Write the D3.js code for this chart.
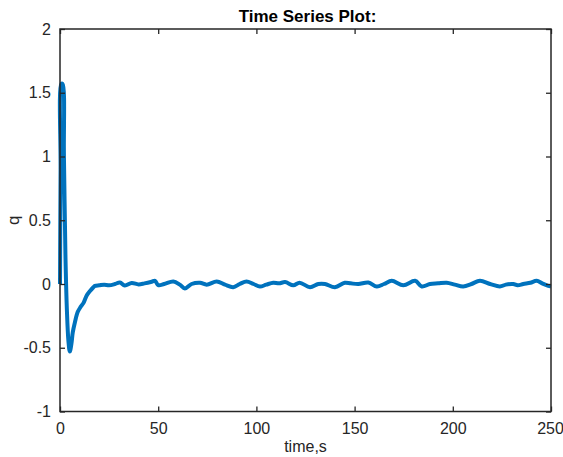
<!DOCTYPE html>
<html>
<head>
<meta charset="utf-8">
<script src="https://cdn.jsdelivr.net/npm/d3@7"></script>
<style>
  html, body { margin: 0; padding: 0; background: #fff; }
  svg { display: block; font-family: "Liberation Sans", Arial, sans-serif; }
</style>
</head>
<body>
<svg width="563" height="457"></svg>
<script>
// time (s) and q values
const times = [0, 0.3, 0.7, 1.3, 2.0, 2.8, 3.5, 4.3, 5.0, 5.8, 6.5, 7.6, 9.0, 10.5, 11.9, 13.6, 15.3, 17.0, 17.8,
  20, 22.5, 25, 28, 30.5, 33, 36.5, 40, 43, 46.7, 48.4, 50, 53, 57.7, 61, 63.6, 67, 71.3, 74.7, 79.8, 84,
  88.2, 91.5, 95, 98.5, 101.8, 105, 108.6, 111.5, 114.6, 118.8, 122, 127.3, 131.5, 134.9, 140, 145, 148,
  151.9, 157, 161.3, 165, 168.9, 174.8, 180.8, 184.2, 188.4, 192.5, 196.9, 201, 205.3, 209.5, 213.8, 219,
  224, 227, 230.8, 233, 235.9, 239.5, 242.7, 245.5, 248.6, 250];
const qValues = [0, 0.9, 1.57, 1.57, 1.0, 0.2, -0.2, -0.45, -0.53, -0.47, -0.38, -0.3, -0.22, -0.18, -0.15, -0.09, -0.055, -0.025, -0.015,
  -0.01, -0.005, -0.01, 0.0, 0.012, -0.012, 0.008, -0.003, 0.005, 0.018, 0.025, -0.008, 0.0, 0.02, -0.005, -0.035, 0.0, 0.01, -0.005, 0.02, -0.005,
  -0.025, 0.0, 0.02, 0.0, -0.02, -0.005, 0.01, 0.005, 0.015, -0.01, 0.01, -0.025, 0.0, 0.0, -0.025, 0.01, 0.005,
  0.0, 0.012, -0.02, 0.0, 0.025, -0.01, 0.025, -0.02, 0.0, 0.005, 0.01, -0.005, -0.02, 0.0, 0.025, 0.0,
  -0.02, -0.005, 0.0, -0.01, 0.0, 0.01, 0.025, 0.005, -0.015, -0.02];

const xTicks = [0, 50, 100, 150, 200, 250];
const yTicks = [-1, -0.5, 0, 0.5, 1, 1.5, 2];

const svg = d3.select("svg");
const plotLeft = 60, plotRight = 551, plotTop = 29, plotBottom = 411.5;
const axisColor = "#262626";

const x = d3.scaleLinear().domain([0, 250]).range([plotLeft, plotRight]);
const y = d3.scaleLinear().domain([-1, 2]).range([plotBottom, plotTop]);

const data = times.map((t, i) => ({ t: t, q: qValues[i] }));

// data line
svg.append("path")
  .datum(data)
  .attr("fill", "none")
  .attr("stroke", "#0072BD")
  .attr("stroke-width", 4)
  .attr("stroke-linejoin", "round")
  .attr("d", d3.line().x(d => x(d.t)).y(d => y(d.q)).curve(d3.curveCatmullRom.alpha(0.5)));

// box axes with inward ticks on all sides
function styleAxis(g) {
  g.select(".domain").remove();
  g.selectAll(".tick line").attr("stroke", axisColor).attr("stroke-width", 1.3);
  g.selectAll(".tick text").attr("fill", axisColor).style("font-size", "16px");
}

svg.append("g").attr("transform", `translate(0,${plotBottom})`)
  .call(d3.axisBottom(x).tickValues(xTicks).tickSizeInner(-5).tickPadding(9).tickFormat(d => String(d)))
  .call(styleAxis)
  .call(g => g.selectAll(".tick text").attr("dy", "0.85em"))
  .call(g => g.selectAll(".tick text").filter(d => d === 250).attr("dx", "-1px"));
svg.append("g").attr("transform", `translate(0,${plotTop})`)
  .call(d3.axisTop(x).tickValues(xTicks).tickSizeInner(-5).tickFormat(""))
  .call(styleAxis);
svg.append("g").attr("transform", `translate(${plotLeft},0)`)
  .call(d3.axisLeft(y).tickValues(yTicks).tickSizeInner(-5).tickPadding(9).tickFormat(d => String(d)))
  .call(styleAxis);
svg.append("g").attr("transform", `translate(${plotRight},0)`)
  .call(d3.axisRight(y).tickValues(yTicks).tickSizeInner(-5).tickFormat(""))
  .call(styleAxis);

svg.append("rect")
  .attr("x", plotLeft).attr("y", plotTop)
  .attr("width", plotRight - plotLeft).attr("height", plotBottom - plotTop)
  .attr("fill", "none").attr("stroke", axisColor).attr("stroke-width", 1.5);

// title and labels
svg.append("text").attr("x", (plotLeft + plotRight) / 2 + 2).attr("y", 22)
  .attr("text-anchor", "middle").attr("fill", "#000")
  .style("font-size", "17px").style("font-weight", "bold")
  .text("Time Series Plot:");
svg.append("text").attr("x", (plotLeft + plotRight) / 2).attr("y", 452)
  .attr("text-anchor", "middle").attr("fill", axisColor)
  .style("font-size", "16px")
  .text("time,s");
svg.append("text").attr("transform", `translate(19,${(plotTop + plotBottom) / 2}) rotate(-90)`)
  .attr("text-anchor", "middle").attr("fill", axisColor)
  .style("font-size", "17px")
  .text("q");
</script>
</body>
</html>
